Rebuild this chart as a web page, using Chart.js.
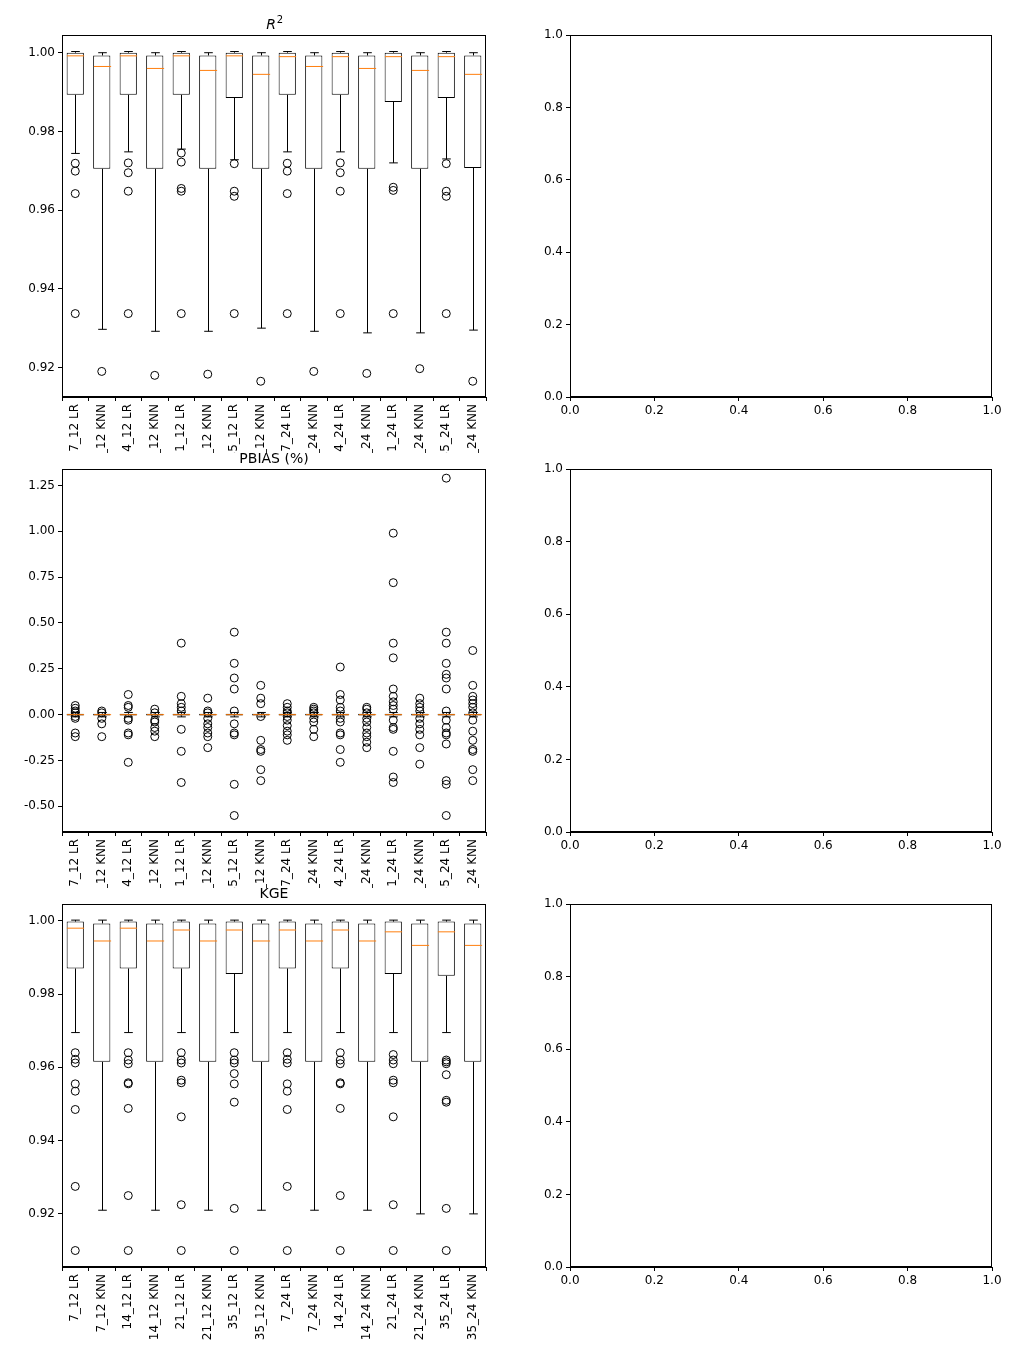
<!DOCTYPE html>
<html>
<head>
<meta charset="utf-8">
<script src="https://cdn.jsdelivr.net/npm/chart.js@4.4.0/dist/chart.umd.min.js"></script>
<style>
body{margin:0;background:#fff;width:1013px;height:1363px;position:relative;overflow:hidden;font-family:"DejaVu Sans";}
.p{position:absolute;background:#fff;}
</style>
</head>
<body>
<div class="p" style="left:10px;top:10px;width:486px;height:467px"><canvas id="c1"></canvas></div>
<div class="p" style="left:540px;top:10px;width:466px;height:412px"><canvas id="e1"></canvas></div>
<div class="p" style="left:10px;top:453px;width:486px;height:459px"><canvas id="c2"></canvas></div>
<div class="p" style="left:540px;top:444px;width:466px;height:413px"><canvas id="e2"></canvas></div>
<div class="p" style="left:10px;top:888px;width:486px;height:459px"><canvas id="c3"></canvas></div>
<div class="p" style="left:540px;top:879px;width:466px;height:413px"><canvas id="e3"></canvas></div>
<script>

// ======================================
// Data
// ======================================

const labels = ["7_12 LR","7_12 KNN","14_12 LR","14_12 KNN","21_12 LR","21_12 KNN","35_12 LR","35_12 KNN",
                "7_24 LR","7_24 KNN","14_24 LR","14_24 KNN","21_24 LR","21_24 KNN","35_24 LR","35_24 KNN"];

// R^2
const r2Lo  = [0.9744,0.9297,0.9748,0.9292,0.9755,0.9292,0.9728,0.9300,0.9748,0.9292,0.9748,0.9288,0.9720,0.9288,0.9730,0.9295];
const r2Q1  = [0.9893,0.9705,0.9893,0.9705,0.9893,0.9705,0.9885,0.9705,0.9893,0.9705,0.9893,0.9705,0.9875,0.9705,0.9885,0.9707];
const r2Med = [0.9992,0.9965,0.9992,0.9960,0.9992,0.9955,0.9992,0.9945,0.9990,0.9965,0.9990,0.9960,0.9990,0.9955,0.9990,0.9945];
const r2Q3  = [1.0000,0.9993,1.0000,0.9993,1.0000,0.9993,1.0000,0.9993,1.0000,0.9993,1.0000,0.9993,1.0000,0.9993,1.0000,0.9993];
const r2Hi  = [1.0003,1.0000,1.0003,1.0000,1.0003,1.0000,1.0003,1.0000,1.0003,1.0000,1.0003,1.0000,1.0003,1.0000,1.0003,1.0000];
const r2Out = [
    [0.9719,0.9699,0.9642,0.9337],[0.9190],
    [0.9720,0.9695,0.9648,0.9337],[0.9180],
    [0.9745,0.9722,0.9655,0.9648,0.9337],[0.9183],
    [0.9718,0.9648,0.9635,0.9337],[0.9165],
    [0.9719,0.9699,0.9642,0.9337],[0.9190],
    [0.9720,0.9695,0.9648,0.9337],[0.9185],
    [0.9658,0.9650,0.9337],[0.9197],
    [0.9718,0.9648,0.9635,0.9337],[0.9165]
];

// PBIAS
const pbLo  = Array(16).fill(-0.012);
const pbQ1  = Array(16).fill(-0.005);
const pbMed = Array(16).fill(0);
const pbQ3  = Array(16).fill(0.005);
const pbHi  = Array(16).fill(0.012);
const pbOut = [
    [0.05,0.035,0.02,0.01,-0.01,-0.02,-0.1,-0.12],
    [0.02,0.01,-0.02,-0.05,-0.12],
    [0.11,0.05,0.04,-0.02,-0.03,-0.1,-0.11,-0.26],
    [0.03,0.01,-0.03,-0.04,-0.07,-0.09,-0.12],
    [0.39,0.1,0.06,0.04,0.02,-0.08,-0.2,-0.37],
    [0.09,0.02,0.01,-0.02,-0.05,-0.07,-0.1,-0.12,-0.18],
    [0.45,0.28,0.2,0.14,0.02,-0.05,-0.1,-0.11,-0.38,-0.55],
    [0.16,0.09,0.06,-0.01,-0.14,-0.19,-0.2,-0.3,-0.36],
    [0.06,0.04,0.02,0.01,-0.01,-0.03,-0.06,-0.09,-0.11,-0.14],
    [0.04,0.03,0.02,0.01,-0.02,-0.04,-0.08,-0.12],
    [0.26,0.11,0.08,0.04,0.02,-0.02,-0.04,-0.1,-0.11,-0.19,-0.26],
    [0.04,0.03,0.01,-0.02,-0.04,-0.07,-0.1,-0.12,-0.15,-0.18],
    [0.99,0.72,0.39,0.31,0.14,0.1,0.07,0.05,0.03,-0.03,-0.07,-0.08,-0.2,-0.34,-0.37],
    [0.09,0.06,0.04,0.02,-0.02,-0.05,-0.08,-0.11,-0.18,-0.27],
    [1.29,0.45,0.39,0.28,0.22,0.2,0.14,0.02,-0.03,-0.07,-0.1,-0.11,-0.16,-0.36,-0.38,-0.55],
    [0.35,0.16,0.1,0.08,0.06,0.04,0.01,-0.03,-0.09,-0.14,-0.19,-0.2,-0.3,-0.36]
];

// KGE
const kgLo  = [0.9695,0.921,0.9695,0.921,0.9695,0.921,0.9695,0.921,0.9695,0.921,0.9695,0.921,0.9695,0.920,0.9695,0.920];
const kgQ1  = [0.987,0.9615,0.987,0.9615,0.987,0.9615,0.9855,0.9615,0.987,0.9615,0.987,0.9615,0.9855,0.9615,0.985,0.9615];
const kgMed = [0.998,0.9945,0.998,0.9945,0.9975,0.9945,0.9975,0.9945,0.9975,0.9945,0.9975,0.9945,0.997,0.9933,0.997,0.9933];
const kgQ3  = [0.9998,0.9993,0.9998,0.9993,0.9998,0.9993,0.9998,0.9993,0.9998,0.9993,0.9998,0.9993,0.9998,0.9993,0.9998,0.9993];
const kgHi  = [1.0002,1.0002,1.0002,1.0002,1.0002,1.0002,1.0002,1.0002,1.0002,1.0002,1.0002,1.0002,1.0002,1.0002,1.0002,1.0002];
const kgOut = [
    [0.964,0.9622,0.9612,0.9555,0.9535,0.9485,0.9275,0.91],[],
    [0.964,0.962,0.961,0.9558,0.9555,0.9488,0.925,0.91],[],
    [0.964,0.962,0.9612,0.9565,0.9558,0.9465,0.9225,0.91],[],
    [0.964,0.962,0.9612,0.9583,0.9555,0.9505,0.9215,0.91],[],
    [0.964,0.9622,0.9612,0.9555,0.9535,0.9485,0.9275,0.91],[],
    [0.964,0.962,0.961,0.9558,0.9555,0.9488,0.925,0.91],[],
    [0.9635,0.962,0.961,0.9565,0.9558,0.9465,0.9225,0.91],[],
    [0.962,0.9615,0.961,0.958,0.951,0.9505,0.9215,0.91],[]
];

const FONT = {family:"DejaVu Sans", size:12};

// ======================================
// Box plot plugin (whiskers, medians, frame, title)
// ======================================

const boxPlugin = {
    id:"boxPlugin",
    afterDatasetsDraw(chart){
        const o = chart.options.plugins.boxPlugin;
        const ctx = chart.ctx;
        const x = chart.scales.x, y = chart.scales.y;
        const a = chart.chartArea;
        ctx.save();
        if(o.lo){
            const half = x.width/labels.length*0.65/2;
            const cap = half/2;
            labels.forEach((l,i)=>{
                const cx = Math.round(x.getPixelForValue(i))+0.5;
                ctx.strokeStyle="#000"; ctx.lineWidth=1;
                ctx.beginPath();
                ctx.moveTo(cx,y.getPixelForValue(o.q1[i])); ctx.lineTo(cx,y.getPixelForValue(o.lo[i]));
                ctx.moveTo(cx-cap,y.getPixelForValue(o.lo[i])); ctx.lineTo(cx+cap,y.getPixelForValue(o.lo[i]));
                ctx.moveTo(cx,y.getPixelForValue(o.q3[i])); ctx.lineTo(cx,y.getPixelForValue(o.hi[i]));
                ctx.moveTo(cx-cap,y.getPixelForValue(o.hi[i])); ctx.lineTo(cx+cap,y.getPixelForValue(o.hi[i]));
                ctx.stroke();
                ctx.strokeStyle="#ff7f0e";
                ctx.beginPath();
                ctx.moveTo(cx-half,y.getPixelForValue(o.med[i])); ctx.lineTo(cx+half,y.getPixelForValue(o.med[i]));
                ctx.stroke();
            });
        }
        ctx.strokeStyle="#000"; ctx.lineWidth=1;
        ctx.strokeRect(a.left+0.5,a.top+0.5,a.right-a.left-1,a.bottom-a.top-1);
        if(o.title){
            const cx=(a.left+a.right)/2, ty=a.top-6;
            ctx.fillStyle="#000"; ctx.textBaseline="alphabetic";
            if(o.title==="R2"){
                ctx.font="italic 14px 'DejaVu Sans'";
                const w=ctx.measureText("R").width;
                ctx.fillText("R",cx-w/2-3,ty);
                ctx.font="10px 'DejaVu Sans'";
                ctx.fillText("2",cx+w/2-2,ty-6);
            }else{
                ctx.font="14px 'DejaVu Sans'";
                ctx.textAlign="center";
                ctx.fillText(o.title,cx,ty);
            }
        }
        ctx.restore();
    }
};

function makeBox(id,title,lo,q1,med,q3,hi,out,ymin,ymax,step,dec,padTop){
    const pts=[];
    out.forEach((vals,i)=>vals.forEach(v=>pts.push({x:labels[i],y:v})));
    return new Chart(document.getElementById(id),{
        type:"bar",
        data:{
            labels:labels,
            datasets:[
                {data:labels.map((l,i)=>[q1[i],q3[i]]),backgroundColor:"#fff",borderColor:"#000",borderWidth:1,borderSkipped:false,
                 barPercentage:0.65,categoryPercentage:1},
                {type:"scatter",data:pts,pointRadius:4,pointBackgroundColor:"rgba(0,0,0,0)",pointBorderColor:"#000",pointBorderWidth:1}
            ]
        },
        options:{
            responsive:true,maintainAspectRatio:false,animation:false,
            layout:{padding:{top:padTop,right:10}},
            plugins:{legend:{display:false},tooltip:{enabled:false},
                boxPlugin:{title:title,lo:lo,q1:q1,med:med,q3:q3,hi:hi}},
            scales:{
                x:{type:"category",grid:{drawOnChartArea:false,color:"#000",tickLength:4},border:{color:"#000"},
                   ticks:{color:"#000",font:FONT,minRotation:90,maxRotation:90,autoSkip:false},
                   afterFit(s){s.height=80;}},
                y:{min:ymin,max:ymax,grid:{drawOnChartArea:false,color:"#000",tickLength:4},border:{color:"#000"},
                   ticks:{color:"#000",font:FONT,stepSize:step,includeBounds:false,callback:v=>v.toFixed(dec)},
                   afterFit(s){s.width=52;}}
            }
        },
        plugins:[boxPlugin]
    });
}

function makeEmpty(id){
    return new Chart(document.getElementById(id),{
        type:"scatter",
        data:{datasets:[{data:[]}]},
        options:{
            responsive:true,maintainAspectRatio:false,animation:false,
            layout:{padding:{top:25,right:14}},
            plugins:{legend:{display:false},tooltip:{enabled:false},boxPlugin:{}},
            scales:{
                x:{min:0,max:1,grid:{drawOnChartArea:false,color:"#000",tickLength:4},border:{color:"#000"},
                   ticks:{color:"#000",font:FONT,stepSize:0.2,maxRotation:0,callback:v=>v.toFixed(1)},
                   afterFit(s){s.height=25;}},
                y:{min:0,max:1,grid:{drawOnChartArea:false,color:"#000",tickLength:4},border:{color:"#000"},
                   ticks:{color:"#000",font:FONT,stepSize:0.2,callback:v=>v.toFixed(1)},
                   afterFit(s){s.width=30;}}
            }
        },
        plugins:[boxPlugin]
    });
}

makeBox("c1","R2",r2Lo,r2Q1,r2Med,r2Q3,r2Hi,r2Out,0.9125,1.0045,0.02,2,25);
makeEmpty("e1");
makeBox("c2","PBIAS (%)",pbLo,pbQ1,pbMed,pbQ3,pbHi,pbOut,-0.64,1.34,0.25,2,16);
makeEmpty("e2");
makeBox("c3","KGE",kgLo,kgQ1,kgMed,kgQ3,kgHi,kgOut,0.9055,1.0046,0.02,2,16);
makeEmpty("e3");

</script>
</body>
</html>
